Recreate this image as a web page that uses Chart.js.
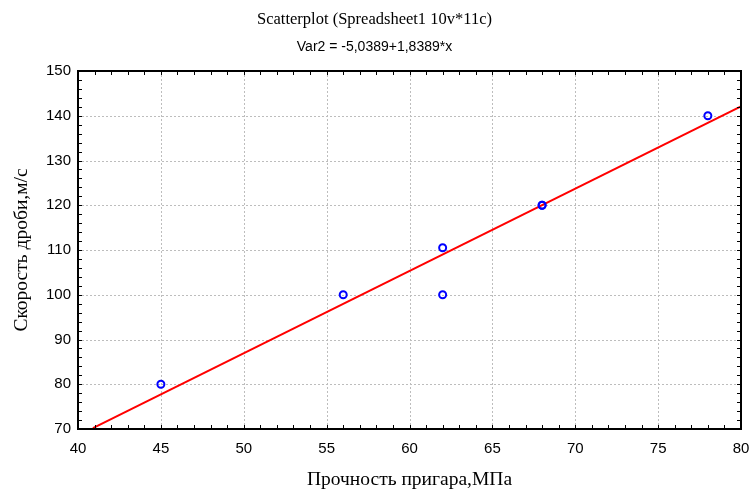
<!DOCTYPE html>
<html lang="ru">
<head>
    <meta charset="UTF-8">
    <title>Scatterplot</title>
    <script src="https://cdn.jsdelivr.net/npm/chart.js"></script>
    <style>
        body {
            margin: 0;
            background: #fff;
        }

        .grafica {
            width: 749px;
            height: 489px;
        }
    </style>
</head>
<body>
    <div class="grafica">
        <canvas id="miGrafica" width="749" height="489"></canvas>
    </div>

<script>
    // datos
    const prochnost = [45, 56, 62, 62, 68, 68, 78];
    const skorost = [80, 100, 110.5, 100, 120, 120, 140];
    // recta de regresión: Var2 = -5,0389+1,8389*x (extremos visibles)
    const lineaX = [40.9, 80];
    const lineaY = [70.2, 142.1];

    const tituloTexto = 'Scatterplot (Spreadsheet1 10v*11c)';
    const subtituloTexto = 'Var2 = -5,0389+1,8389*x';

    const puntos = prochnost.map((x, i) => ({ x: x, y: skorost[i] }));
    const linea = lineaX.map((x, i) => ({ x: x, y: lineaY[i] }));

    // rejilla punteada (antes de los datos)
    const rejillaPlugin = {
        id: 'rejilla',
        beforeDatasetsDraw(chart) {
            const ctx = chart.ctx;
            const a = chart.chartArea;
            const sx = chart.scales.x;
            const sy = chart.scales.y;
            ctx.save();
            ctx.strokeStyle = '#bdbdbd';
            ctx.lineWidth = 1;
            ctx.setLineDash([2, 2]);
            ctx.beginPath();
            for (let v = 45; v < 80; v += 5) {
                const px = Math.round(sx.getPixelForValue(v)) + 0.5;
                ctx.moveTo(px, a.top);
                ctx.lineTo(px, a.bottom);
            }
            for (let v = 80; v < 150; v += 10) {
                const py = Math.round(sy.getPixelForValue(v)) + 0.5;
                ctx.moveTo(a.left, py);
                ctx.lineTo(a.right, py);
            }
            ctx.stroke();
            ctx.restore();
        }
    };

    // marco negro y marcas hacia dentro, en los cuatro lados
    const marcoPlugin = {
        id: 'marco',
        afterDraw(chart) {
            const ctx = chart.ctx;
            const a = chart.chartArea;
            const sx = chart.scales.x;
            const sy = chart.scales.y;
            ctx.save();
            ctx.strokeStyle = '#000';
            ctx.lineWidth = 1;
            ctx.beginPath();
            for (let v = 41; v < 80; v++) {
                const px = Math.round(sx.getPixelForValue(v)) + 0.5;
                ctx.moveTo(px, a.bottom);
                ctx.lineTo(px, a.bottom - 4);
                ctx.moveTo(px, a.top);
                ctx.lineTo(px, a.top + 4);
            }
            for (let v = 72; v < 150; v += 2) {
                const py = Math.round(sy.getPixelForValue(v)) + 0.5;
                ctx.moveTo(a.left, py);
                ctx.lineTo(a.left + 4, py);
                ctx.moveTo(a.right, py);
                ctx.lineTo(a.right - 4, py);
            }
            ctx.stroke();
            ctx.lineWidth = 2;
            ctx.strokeRect(a.left, a.top, a.right - a.left, a.bottom - a.top);

            // títulos
            ctx.fillStyle = '#000';
            ctx.textAlign = 'center';
            ctx.textBaseline = 'middle';
            ctx.font = '16.5px "Liberation Serif"';
            ctx.fillText(tituloTexto, chart.width / 2, 20);
            ctx.font = '14px "Liberation Sans"';
            ctx.fillText(subtituloTexto, chart.width / 2, 47);
            ctx.restore();
        }
    };

    const ctx = document.getElementById('miGrafica').getContext('2d');
    let chart = new Chart(ctx, {
        type: 'scatter',
        data: {
            datasets: [{
                label: 'Скорость дроби',
                data: puntos,
                pointStyle: 'circle',
                pointRadius: 3.5,
                pointBorderWidth: 2,
                pointBorderColor: '#0000ff',
                pointBackgroundColor: 'rgba(0,0,0,0)',
                showLine: false
            }, {
                label: 'Regresión',
                type: 'line',
                data: linea,
                borderColor: '#ff0000',
                borderWidth: 2,
                pointRadius: 0,
                fill: false
            }]
        },
        options: {
            responsive: false,
            animation: false,
            layout: {
                padding: { top: 71, right: 8, left: 0, bottom: 0 }
            },
            plugins: {
                legend: { display: false },
                tooltip: { enabled: false }
            },
            scales: {
                x: {
                    type: 'linear',
                    min: 40,
                    max: 80,
                    afterFit(scale) {
                        scale.height = 60;
                        scale.paddingLeft = 0;
                        scale.paddingRight = 0;
                    },
                    ticks: {
                        stepSize: 5,
                        padding: 11,
                        color: '#000',
                        font: { family: '"Liberation Sans"', size: 15 }
                    },
                    grid: { display: false, drawTicks: false },
                    border: { display: false },
                    title: {
                        display: true,
                        text: 'Прочность пригара,МПа',
                        color: '#000',
                        font: { family: '"Liberation Serif"', size: 19.5 },
                        padding: { top: 0, bottom: -3 }
                    }
                },
                y: {
                    min: 70,
                    max: 150,
                    afterFit(scale) {
                        scale.width = 78;
                        scale.paddingTop = 0;
                        scale.paddingBottom = 0;
                    },
                    ticks: {
                        stepSize: 10,
                        padding: 7,
                        color: '#000',
                        font: { family: '"Liberation Sans"', size: 15 }
                    },
                    grid: { display: false, drawTicks: false },
                    border: { display: false },
                    title: {
                        display: true,
                        text: 'Скорость дроби,м/с',
                        color: '#000',
                        font: { family: '"Liberation Serif"', size: 19.5 },
                        padding: { top: 10, bottom: 0 }
                    }
                }
            }
        },
        plugins: [rejillaPlugin, marcoPlugin]
    });
</script>
</body>
</html>
